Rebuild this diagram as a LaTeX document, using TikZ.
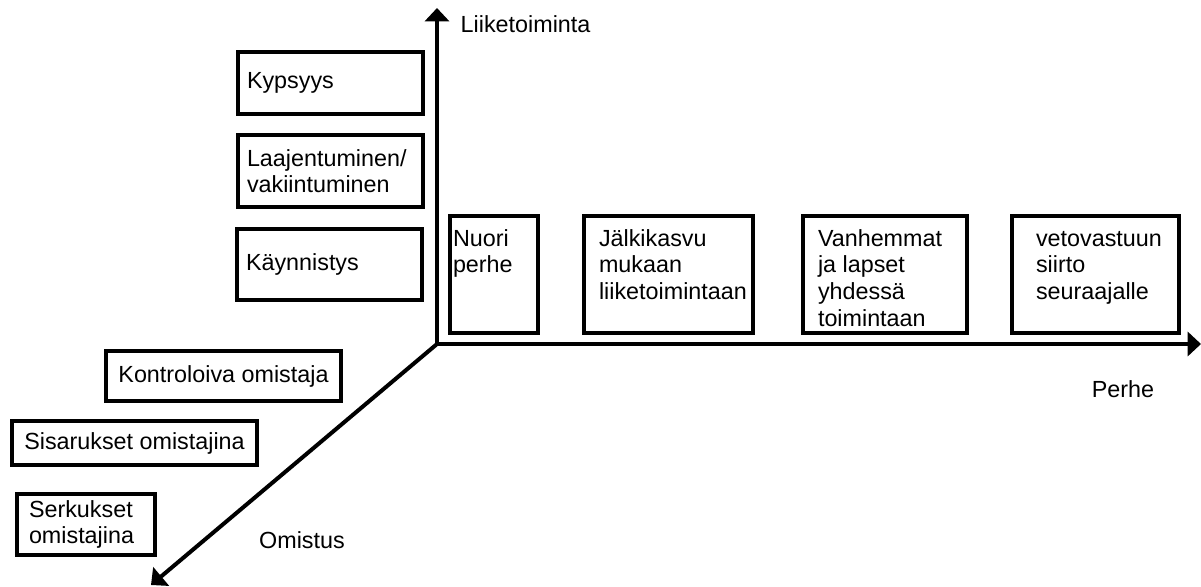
\documentclass[tikz,border=0pt]{standalone}
\usepackage{fontspec}
\setmainfont{Liberation Sans}
\usetikzlibrary{arrows.meta}

\newcommand{\toptext}[2]{\parbox[t][70.75pt][t]{#1}{\strut #2}}

\begin{document}
\begin{tikzpicture}[x=0.75pt, y=-0.75pt,
  every node/.style={font=\fontsize{17.5pt}{20pt}\selectfont},
  box/.style={draw, line width=3pt, anchor=north west},
  phase/.style={box, align=left, inner xsep=6.75pt, text width=125.25pt},
  stage/.style={box, inner ysep=8.5pt},
  axis/.style={line width=3pt, -{Triangle[width=18pt,length=10pt]}}]
  % assi: liiketoiminta, perhe, omistus
  \useasboundingbox (0,0) rectangle (1201,586);
  \coordinate (O) at (437,344);
  \coordinate (L) at (437,8);
  \coordinate (P) at (1201,344);
  \coordinate (M) at (151,585);
  \draw[axis] (O) -- (L);
  \draw[axis] (O) -- (P);
  \draw[axis] (O) -- (M);

  \node[anchor=west] (liike) at (456,24) {Liiketoiminta};
  \node (perhe) at (1123,389) {Perhe};
  \node (omistus) at (302,540) {Omistus};

  % liiketoiminta
  \node[phase, minimum height=46.5pt] (kypsyys) at (236,50) {Kypsyys};
  \node[phase, minimum height=54pt] (laaj) at (236,133) {Laajentuminen/\\vakiintuminen};
  \node[phase, minimum height=53.25pt] (kayn) at (235,227) {Käynnistys};

  % omistus
  \node[box, minimum width=176.25pt, minimum height=37.5pt] (kontr) at (104,349) {Kontroloiva omistaja};
  \node[box, minimum width=183.75pt, minimum height=33pt] (sisar) at (10,419) {Sisarukset omistajina};
  \node[box, align=left, text width=85.5pt, inner xsep=9pt, inner ysep=2pt,
        minimum height=45.75pt] (serk) at (15,492) {Serkukset\\omistajina};

  % perhe
  \node[stage, inner xsep=2.25pt] (nuori) at (448,214) {\toptext{61.5pt}{Nuori\\perhe}};
  \node[stage, inner xsep=11.25pt] (jalki) at (582,214) {\toptext{104.25pt}{Jälkikasvu\\mukaan\\liiketoimintaan}};
  \node[stage, inner xsep=11.25pt] (vanh) at (801,214) {\toptext{100.5pt}{Vanhemmat\\ja lapset\\yhdessä\\toimintaan}};
  \node[stage, inner xsep=18pt] (veto) at (1010,214) {\toptext{89.25pt}{vetovastuun\\siirto\\seuraajalle}};
\end{tikzpicture}
\end{document}
